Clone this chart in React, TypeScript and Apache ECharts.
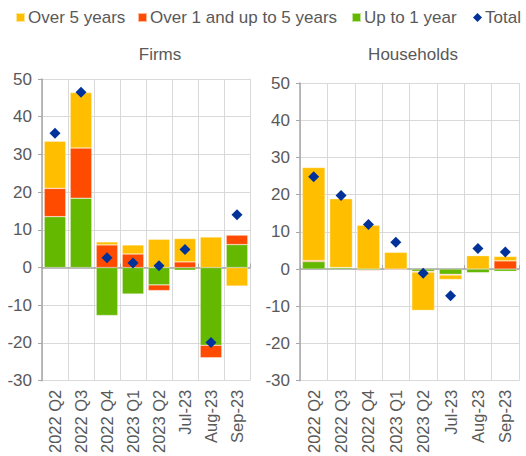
import React, { useEffect, useRef } from "react";
import * as echarts from "echarts";

const categories = ["2022 Q2", "2022 Q3", "2022 Q4", "2023 Q1", "2023 Q2", "Jul-23", "Aug-23", "Sep-23"];

const firmsUpTo1 = [13.5, 18.4, -12.7, -7.0, -4.6, -0.7, -20.6, 6.1];
const firmsOver1to5 = [7.5, 13.3, 6.0, 3.6, -1.5, 1.5, -3.3, 2.5];
const firmsOver5 = [12.5, 14.7, 0.8, 2.4, 7.5, 6.2, 8.1, -4.9];
const firmsTotal = [35.6, 46.5, 2.6, 1.2, 0.5, 4.8, -19.9, 14.0];

const hhUpTo1 = [2.0, 0.4, -0.3, -0.1, -0.6, -1.4, -1.0, -0.6];
const hhOver1to5 = [0.3, 0.0, -0.2, -0.2, -0.2, -0.2, -0.1, 2.2];
const hhOver5 = [25.0, 18.5, 11.8, 4.5, -10.3, -1.2, 3.6, 1.2];
const hhTotal = [24.8, 19.8, 12.0, 7.2, -1.1, -7.2, 5.5, 4.6];

const C_OVER5 = "#FFBF00";
const C_1TO5 = "#FF4B00";
const C_UPTO1 = "#65B800";
const C_TOTAL = "#003299";
const TXT = "#595959";
const FONT = "Liberation Sans, Arial, sans-serif";

export default function App() {
  const ref = useRef<HTMLDivElement>(null);
  useEffect(() => {
    const chart = echarts.init(ref.current!, null, { renderer: "svg" });
    const grids = [
      { left: 42, top: 79, width: 208, height: 303 },
      { left: 300, top: 83, width: 219, height: 300 },
    ];
    const xAxes: any[] = [];
    const yAxes: any[] = [];
    [0, 1].forEach((g) => {
      xAxes.push({
        type: "category",
        gridIndex: g,
        data: categories,
        position: "bottom",
        axisLine: { show: false, onZero: false },
        axisTick: { show: false },
        axisLabel: { rotate: 90, color: TXT, fontSize: 16.5, fontFamily: FONT, margin: 9, interval: 0 },
        splitLine: { show: true, lineStyle: { color: "#d9d9d9", width: 1 } },
      });
      xAxes.push({
        type: "category",
        gridIndex: g,
        data: categories,
        axisLine: { show: true, onZero: true, lineStyle: { color: "#a6a6a6", width: 1.5 } },
        axisTick: { show: true, length: 4, lineStyle: { color: "#a6a6a6" } },
        axisLabel: { show: false },
        splitLine: { show: false },
      });
      yAxes.push({
        type: "value",
        gridIndex: g,
        min: -30,
        max: 50,
        interval: 10,
        axisLine: { show: true, lineStyle: { color: "#a6a6a6", width: 1.5 } },
        axisTick: { show: true, length: 4, lineStyle: { color: "#a6a6a6" } },
        axisLabel: { color: TXT, fontSize: 17, fontFamily: FONT, margin: 10 },
        splitLine: { show: true, lineStyle: { color: "#d9d9d9", width: 1 } },
      });
    });

    const bar = (name: string, data: number[], color: string, g: number, stack: string) => ({
      name,
      type: "bar",
      xAxisIndex: g * 2,
      yAxisIndex: g,
      stack,
      data,
      barCategoryGap: "17%",
      itemStyle: { color, borderColor: "rgba(255,255,255,0.6)", borderWidth: 0.5 },
    });
    const total = (data: number[], g: number) => ({
      name: "Total",
      type: "scatter",
      xAxisIndex: g * 2,
      yAxisIndex: g,
      data,
      symbol: "diamond",
      symbolSize: [11, 11],
      itemStyle: { color: C_TOTAL, opacity: 1 },
      z: 5,
    });

    const legendBase = {
      top: 4,
      itemWidth: 9,
      itemHeight: 9,
      itemGap: 0,
      textStyle: { color: TXT, fontSize: 17, fontFamily: FONT, padding: [0, 0, 0, -2] },
      selectedMode: false,
    };

    chart.setOption({
      animation: false,
      textStyle: { fontFamily: FONT },
      title: [
        { text: "Firms", left: 155, top: 41, textAlign: "center", textStyle: { color: TXT, fontSize: 17, fontWeight: "normal", fontFamily: FONT } },
        { text: "Households", left: 408, top: 41, textAlign: "center", textStyle: { color: TXT, fontSize: 17, fontWeight: "normal", fontFamily: FONT } },
      ],
      legend: [
        { ...legendBase, left: 10, data: [{ name: "Over 5 years", icon: "rect" }] },
        { ...legendBase, left: 132, data: [{ name: "Over 1 and up to 5 years", icon: "rect" }] },
        { ...legendBase, left: 346, data: [{ name: "Up to 1 year", icon: "rect" }] },
        { ...legendBase, left: 468, data: [{ name: "Total", icon: "diamond", itemStyle: { opacity: 1 } }] },
      ],
      grid: grids,
      xAxis: xAxes,
      yAxis: yAxes,
      series: [
        bar("Up to 1 year", firmsUpTo1, C_UPTO1, 0, "f"),
        bar("Over 1 and up to 5 years", firmsOver1to5, C_1TO5, 0, "f"),
        bar("Over 5 years", firmsOver5, C_OVER5, 0, "f"),
        total(firmsTotal, 0),
        bar("Up to 1 year", hhUpTo1, C_UPTO1, 1, "h"),
        bar("Over 1 and up to 5 years", hhOver1to5, C_1TO5, 1, "h"),
        bar("Over 5 years", hhOver5, C_OVER5, 1, "h"),
        total(hhTotal, 1),
      ],
    });
    return () => chart.dispose();
  }, []);
  return <div ref={ref} style={{ position: "fixed", left: 0, top: 0, width: 526, height: 456, background: "#fff" }} />;
}
